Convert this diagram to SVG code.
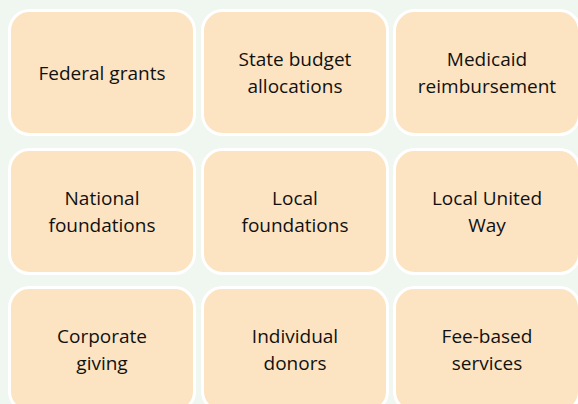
<svg xmlns="http://www.w3.org/2000/svg" width="578" height="404" viewBox="0 0 578 404">
<style>
.box{fill:#FCE4C2;stroke:#FFFFFF;stroke-width:3}
.lbl{font-family:"Open Sans","Liberation Sans",sans-serif;font-size:19px;fill:#111111;text-anchor:middle}
</style>
<rect x="0" y="0" width="578" height="404" fill="#F0F6F0"/>
<g id="n1"><rect class="box" x="9.5" y="10.5" width="185" height="124" rx="20"/><text class="lbl" x="102" y="80">Federal grants</text></g>
<g id="n2"><rect class="box" x="202.5" y="10.5" width="185" height="124" rx="20"/><text class="lbl" x="295" y="66">State budget</text><text class="lbl" x="295" y="93">allocations</text></g>
<g id="n3"><rect class="box" x="394.5" y="10.5" width="185" height="124" rx="20"/><text class="lbl" x="487" y="66">Medicaid</text><text class="lbl" x="487" y="93">reimbursement</text></g>
<g id="n4"><rect class="box" x="9.5" y="149.5" width="185" height="124" rx="20"/><text class="lbl" x="102" y="205">National</text><text class="lbl" x="102" y="232">foundations</text></g>
<g id="n5"><rect class="box" x="202.5" y="149.5" width="185" height="124" rx="20"/><text class="lbl" x="295" y="205">Local</text><text class="lbl" x="295" y="232">foundations</text></g>
<g id="n6"><rect class="box" x="394.5" y="149.5" width="185" height="124" rx="20"/><text class="lbl" x="487" y="205">Local United</text><text class="lbl" x="487" y="232">Way</text></g>
<g id="n7"><rect class="box" x="9.5" y="287.5" width="185" height="124" rx="20"/><text class="lbl" x="102" y="343">Corporate</text><text class="lbl" x="102" y="370">giving</text></g>
<g id="n8"><rect class="box" x="202.5" y="287.5" width="185" height="124" rx="20"/><text class="lbl" x="295" y="343">Individual</text><text class="lbl" x="295" y="370">donors</text></g>
<g id="n9"><rect class="box" x="394.5" y="287.5" width="185" height="124" rx="20"/><text class="lbl" x="487" y="343">Fee-based</text><text class="lbl" x="487" y="370">services</text></g>
<g id="connectors"></g>
</svg>
